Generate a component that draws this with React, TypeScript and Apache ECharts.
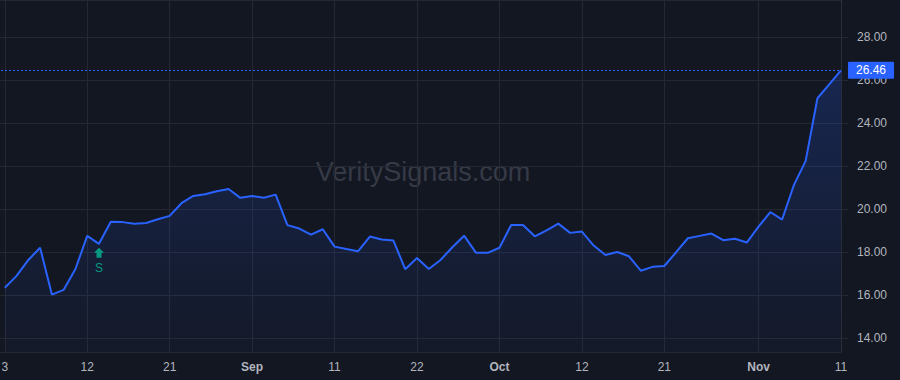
import React, { useEffect, useRef } from "react";
import * as echarts from "echarts";

const dates: string[] = [
  "2020-08-03", "2020-08-04", "2020-08-05", "2020-08-06", "2020-08-07",
  "2020-08-10", "2020-08-11", "2020-08-12", "2020-08-13", "2020-08-14",
  "2020-08-17", "2020-08-18", "2020-08-19", "2020-08-20", "2020-08-21",
  "2020-08-24", "2020-08-25", "2020-08-26", "2020-08-27", "2020-08-28",
  "2020-08-31",
  "2020-09-01", "2020-09-02", "2020-09-03", "2020-09-04", "2020-09-08",
  "2020-09-09", "2020-09-10", "2020-09-11", "2020-09-14", "2020-09-15",
  "2020-09-16", "2020-09-17", "2020-09-18", "2020-09-21", "2020-09-22",
  "2020-09-23", "2020-09-24", "2020-09-25", "2020-09-28", "2020-09-29",
  "2020-09-30",
  "2020-10-01", "2020-10-02", "2020-10-05", "2020-10-06", "2020-10-07",
  "2020-10-08", "2020-10-09", "2020-10-12", "2020-10-13", "2020-10-14",
  "2020-10-15", "2020-10-16", "2020-10-19", "2020-10-20", "2020-10-21",
  "2020-10-22", "2020-10-23", "2020-10-26", "2020-10-27", "2020-10-28",
  "2020-10-29", "2020-10-30",
  "2020-11-02", "2020-11-03", "2020-11-04", "2020-11-05", "2020-11-06",
  "2020-11-09", "2020-11-10", "2020-11-11",
];

const closes: number[] = [
  16.35, 16.9, 17.64, 18.21, 16.03, 16.25, 17.22, 18.76, 18.39, 19.42,
  19.4, 19.32, 19.36, 19.53, 19.69, 20.28, 20.62, 20.7, 20.84, 20.94,
  20.53, 20.62, 20.53, 20.68, 19.26, 19.1, 18.82, 19.07, 18.26, 18.15,
  18.05, 18.73, 18.59, 18.54, 17.21, 17.73, 17.22, 17.64, 18.23, 18.77,
  17.98, 17.97, 18.21, 19.27, 19.27, 18.74, 19.02, 19.33, 18.9, 18.96,
  18.31, 17.87, 18.01, 17.81, 17.14, 17.32, 17.36, 18.0, 18.65, 18.76,
  18.87, 18.56, 18.63, 18.45, 19.19, 19.87, 19.52, 21.12, 22.25, 25.16,
  25.81, 26.46,
];

const tickDates: string[] = [
  "2020-08-03", "2020-08-12", "2020-08-21", "2020-09-01", "2020-09-11",
  "2020-09-22", "2020-10-01", "2020-10-12", "2020-10-21", "2020-11-02",
  "2020-11-11",
];

const monthNames: string[] = [
  "Jan", "Feb", "Mar", "Apr", "May", "Jun", "Jul", "Aug", "Sep", "Oct", "Nov", "Dec",
];

const signalDates: string[] = ["2020-08-13"];
const signalTexts: string[] = ["S"];

const lastPrice = closes[closes.length - 1];
const watermark = "VeritySignals.com";

const FONT = "'Liberation Sans', Arial, Helvetica, sans-serif";
const BG = "#131722";
const GRID = "#242833";
const TEXT = "#b2b5be";
const BLUE = "#2962ff";
const GREEN = "#089981";
const SHIFT = 7;

export default function App() {
  const ref = useRef<HTMLDivElement>(null);

  useEffect(() => {
    if (!ref.current) return;
    const chart = echarts.init(ref.current, undefined, { renderer: "svg" });

    const categories = ["", ...dates];
    const values: (number | null)[] = [null, ...closes];

    const isTick = (_i: number, v: string) => tickDates.indexOf(v) >= 0;

    const fmtDate = (v: string) => {
      if (!v) return "";
      const idx = dates.indexOf(v);
      const [, m, d] = v.split("-").map(Number);
      if (idx > 0) {
        const pm = Number(dates[idx - 1].split("-")[1]);
        if (pm !== m) return "{b|" + monthNames[m - 1] + "}";
      }
      return String(d);
    };

    const markPoints = signalDates.map((d, k) => ({
      coord: [d, closes[dates.indexOf(d)]],
      name: signalTexts[k],
    }));

    chart.setOption({
      animation: false,
      backgroundColor: BG,
      textStyle: { fontFamily: FONT },
      grid: { left: 0, right: 59, top: 0, bottom: 28 },
      xAxis: {
        type: "category",
        data: categories,
        boundaryGap: false,
        axisLine: { show: false },
        axisTick: { show: false },
        axisLabel: {
          interval: isTick,
          formatter: fmtDate,
          color: TEXT,
          fontSize: 12,
          fontFamily: FONT,
          margin: 9,
          hideOverlap: false,
          rich: { b: { fontWeight: "bold", color: TEXT, fontSize: 12, fontFamily: FONT } },
        },
        splitLine: { show: true, interval: isTick, lineStyle: { color: GRID, width: 1 } },
      },
      yAxis: {
        type: "value",
        position: "right",
        min: 13.36,
        max: 29.73,
        splitNumber: 8,
        axisLine: { show: true, lineStyle: { color: "#2a2e39" } },
        axisTick: { show: true, length: 7, lineStyle: { color: GRID } },
        axisLabel: {
          color: TEXT,
          fontSize: 12,
          fontFamily: FONT,
          margin: 16,
          showMinLabel: false,
          showMaxLabel: false,
          formatter: (v: number) => v.toFixed(2),
        },
        splitLine: { show: true, lineStyle: { color: GRID, width: 1 } },
      },
      graphic: [
        {
          type: "text",
          x: 423 + SHIFT,
          y: 172,
          silent: true,
          z: 0,
          style: {
            text: watermark,
            font: "27px " + FONT,
            fill: "#363a46",
            textAlign: "center",
            textVerticalAlign: "middle",
          },
        },
      ],
      series: [
        {
          type: "line",
          data: values,
          symbol: "none",
          lineStyle: { color: BLUE, width: 2 },
          itemStyle: { color: BLUE },
          areaStyle: {
            origin: "start",
            color: new echarts.graphic.LinearGradient(0, 0, 0, 1, [
              { offset: 0, color: "rgba(41,98,255,0.30)" },
              { offset: 1, color: "rgba(41,98,255,0.04)" },
            ]),
          },
          markLine: {
            silent: true,
            symbol: ["none", "none"],
            lineStyle: { color: BLUE, type: [2, 2], width: 1 },
            label: {
              show: true,
              position: "end",
              distance: 7,
              formatter: lastPrice.toFixed(2),
              color: "#ffffff",
              backgroundColor: BLUE,
              fontSize: 12,
              fontFamily: FONT,
              padding: [2, 8, 2, 8],
              lineHeight: 13,
              borderRadius: 1,
            },
            data: [{ yAxis: lastPrice }],
          },
          markPoint: {
            silent: true,
            symbol: "path://M5 0 L10 5 L7.5 5 L7.5 10 L2.5 10 L2.5 5 L0 5 Z",
            symbolSize: [10, 10],
            symbolOffset: [0, 9],
            itemStyle: { color: GREEN },
            label: {
              show: true,
              position: "bottom",
              distance: 4,
              formatter: (p: any) => p.name,
              color: GREEN,
              fontSize: 12,
              fontFamily: FONT,
            },
            data: markPoints,
          },
        },
      ],
    });

    return () => chart.dispose();
  }, []);

  return (
    <div
      ref={ref}
      style={{ position: "absolute", left: -SHIFT, top: 0, width: 900 + SHIFT, height: 380 }}
    />
  );
}
